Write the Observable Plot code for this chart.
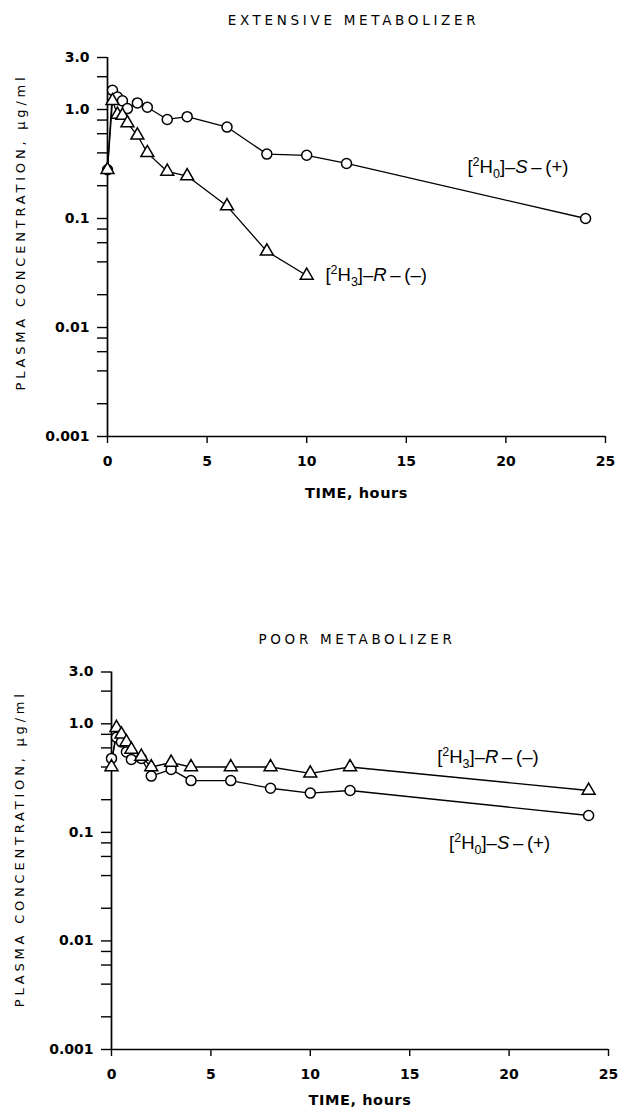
<!DOCTYPE html>
<html><head><meta charset="utf-8">
<script src="https://cdn.jsdelivr.net/npm/d3@7"></script>
<script src="https://cdn.jsdelivr.net/npm/@observablehq/plot@0.6"></script>
<style>
html,body{margin:0;padding:0;background:#fff;}
#wrap{position:relative;width:619px;height:1114px;overflow:hidden;background:#fff;}
#top,#bottom{position:absolute;left:0;}
#top{top:0;} #bottom{top:620px;}
</style></head><body><div id="wrap"><div id="top"></div><div id="bottom"></div></div>
<script>
// ---- text ----
const emTitle = "EXTENSIVE METABOLIZER";
const pmTitle = "POOR METABOLIZER";
const yTitle = "PLASMA CONCENTRATION, µg/ml";
const xTitle = "TIME, hours";
// ---- ticks ----
const yTickValues = [3, 1, 0.1, 0.01, 0.001];
const yTickLabels = ["3.0", "1.0", "0.1", "0.01", "0.001"];
const yMinorTicks = [2, 0.8, 0.6, 0.4, 0.2, 0.08, 0.06, 0.04, 0.02, 0.008, 0.006, 0.004, 0.002];
const xTickValues = [0, 5, 10, 15, 20, 25];
// ---- extensive metabolizer ----
const emTimeS = [0, 0.25, 0.5, 0.75, 1, 1.5, 2, 3, 4, 6, 8, 10, 12, 24];
const emConcS = [0.28, 1.5, 1.3, 1.2, 1.02, 1.15, 1.05, 0.81, 0.86, 0.69, 0.39, 0.38, 0.32, 0.10];
const emTimeR = [0, 0.25, 0.5, 0.75, 1, 1.5, 2, 3, 4, 6, 8, 10];
const emConcR = [0.28, 1.2, 0.9, 0.88, 0.75, 0.58, 0.40, 0.27, 0.245, 0.13, 0.05, 0.03];
// ---- poor metabolizer ----
const pmTimeS = [0, 0.25, 0.5, 0.75, 1, 1.5, 2, 3, 4, 6, 8, 10, 12, 24];
const pmConcS = [0.48, 0.75, 0.68, 0.55, 0.47, 0.48, 0.33, 0.38, 0.30, 0.30, 0.255, 0.23, 0.243, 0.143];
const pmTimeR = [0, 0.25, 0.5, 0.75, 1, 1.5, 2, 3, 4, 6, 8, 10, 12, 24];
const pmConcR = [0.40, 0.92, 0.80, 0.68, 0.58, 0.50, 0.40, 0.44, 0.40, 0.40, 0.40, 0.35, 0.40, 0.243];
// ---- series labels: [text, role] ----
const labelPartsS = [["[", ""], ["2", "sup"], ["H", ""], ["0", "sub"], ["]–", ""], ["S", "it"], ["\u2009–\u2009(+)", ""]];
const labelPartsR = [["[", ""], ["2", "sup"], ["H", ""], ["3", "sub"], ["]–", ""], ["R", "it"], ["\u2009–\u2009(–)", ""]];
const emLabelAt = [{t: 18.07, c: 0.295, parts: labelPartsS}, {t: 10.94, c: 0.0301, parts: labelPartsR}];
const pmLabelAt = [{t: 16.38, c: 0.493, parts: labelPartsR}, {t: 16.98, c: 0.079, parts: labelPartsS}];

const rows = (ts, cs) => ts.map((t, i) => ({t, c: cs[i]}));
const FONT = "'DejaVu Sans', 'Liberation Sans', Arial, sans-serif";
const LABEL_FONT = "'Liberation Sans', Arial, Helvetica, sans-serif";
const joinParts = parts => parts.map(p => p[0]).join("");

function textNodes(svg, str) {
  return Array.from(svg.querySelectorAll("text")).filter(n => n.textContent === str);
}

function richLabels(svg, labels) {
  labels.forEach(lab => {
    textNodes(svg, joinParts(lab.parts)).forEach(node => {
      while (node.firstChild) node.removeChild(node.firstChild);
      let shift = 0;
      lab.parts.forEach(([str, role]) => {
        const ts = document.createElementNS("http://www.w3.org/2000/svg", "tspan");
        ts.textContent = str;
        const target = role === "sup" ? -7 : role === "sub" ? 4.5 : 0;
        if (target !== shift) { ts.setAttribute("dy", target - shift); shift = target; }
        if (role === "sup" || role === "sub") ts.setAttribute("font-size", "12.5px");
        if (role === "it") ts.setAttribute("font-style", "italic");
        node.appendChild(ts);
      });
    });
  });
}

function panel(cfg) {
  const S = rows(cfg.timeS, cfg.concS), R = rows(cfg.timeR, cfg.concR);
  const svg = Plot.plot({
    width: 619, height: cfg.height,
    marginTop: cfg.mt, marginBottom: cfg.mb, marginLeft: cfg.ml, marginRight: cfg.mr,
    style: {fontFamily: FONT, fontSize: "13px", color: "black", background: "white", overflow: "visible"},
    x: {domain: [0, 25], axis: null},
    y: {type: "log", domain: [0.001, 3], axis: null},
    marks: [
      Plot.ruleX([0], {stroke: "black", strokeWidth: 1.7}),
      Plot.ruleY([0.001], {stroke: "black", strokeWidth: 1.7}),
      Plot.axisY({ticks: yMinorTicks, tickFormat: () => "", tickSize: 10, label: null, strokeWidth: 1.4}),
      Plot.axisY({ticks: yTickValues, tickFormat: d => yTickLabels[yTickValues.indexOf(d)], tickSize: 10, tickPadding: 8, label: null, fontWeight: "bold", fontSize: 14, strokeWidth: 1.4}),
      Plot.axisX({ticks: xTickValues, tickFormat: d => String(d), tickSize: 7, tickPadding: 13, label: null, fontWeight: "bold", fontSize: 14, strokeWidth: 1.4}),
      Plot.line(S, {x: "t", y: "c", stroke: "black", strokeWidth: 1.3}),
      Plot.line(R, {x: "t", y: "c", stroke: "black", strokeWidth: 1.3}),
      Plot.dot(S, {x: "t", y: "c", symbol: "circle", r: 5, fill: "white", stroke: "black", strokeWidth: 1.5}),
      Plot.dot(R, {x: "t", y: "c", symbol: "triangle", r: 4.8, fill: "white", stroke: "black", strokeWidth: 1.5}),
      Plot.text(cfg.labels, {x: "t", y: "c", text: d => joinParts(d.parts), textAnchor: "start", lineAnchor: "middle", fontSize: 18.5, fontWeight: "normal", fontFamily: LABEL_FONT}),
      Plot.text([cfg.title], {frameAnchor: "top", textAnchor: "middle", lineAnchor: "middle", dx: -3, dy: cfg.titleDy, fontSize: 13.5, fontWeight: "normal"}),
      Plot.text([xTitle], {frameAnchor: "bottom", textAnchor: "middle", lineAnchor: "middle", dy: cfg.xTitleDy, fontSize: 14.5, fontWeight: "bold"}),
      Plot.text([yTitle], {frameAnchor: "left", textAnchor: "middle", lineAnchor: "middle", rotate: -90, dx: cfg.yTitleDx, dy: cfg.yTitleDy, fontSize: 13, fontWeight: "normal"})
    ]
  });
  richLabels(svg, cfg.labels);
  textNodes(svg, cfg.title).forEach(n => n.style.letterSpacing = "3.7px");
  textNodes(svg, xTitle).forEach(n => n.style.letterSpacing = "0.6px");
  textNodes(svg, yTitle).forEach(n => n.style.letterSpacing = "3.8px");
  return svg;
}

document.getElementById("top").appendChild(panel({
  title: emTitle, timeS: emTimeS, concS: emConcS, timeR: emTimeR, concR: emConcR, labels: emLabelAt,
  height: 520, mt: 57, mb: 84, ml: 107, mr: 14, titleDy: -37, xTitleDy: 57, yTitleDx: -87, yTitleDy: -15
}));
document.getElementById("bottom").appendChild(panel({
  title: pmTitle, timeS: pmTimeS, concS: pmConcS, timeR: pmTimeR, concR: pmConcR, labels: pmLabelAt,
  height: 494, mt: 51.5, mb: 65, ml: 111, mr: 11, titleDy: -32, xTitleDy: 51, yTitleDx: -92, yTitleDy: -12
}));
</script></body></html>
